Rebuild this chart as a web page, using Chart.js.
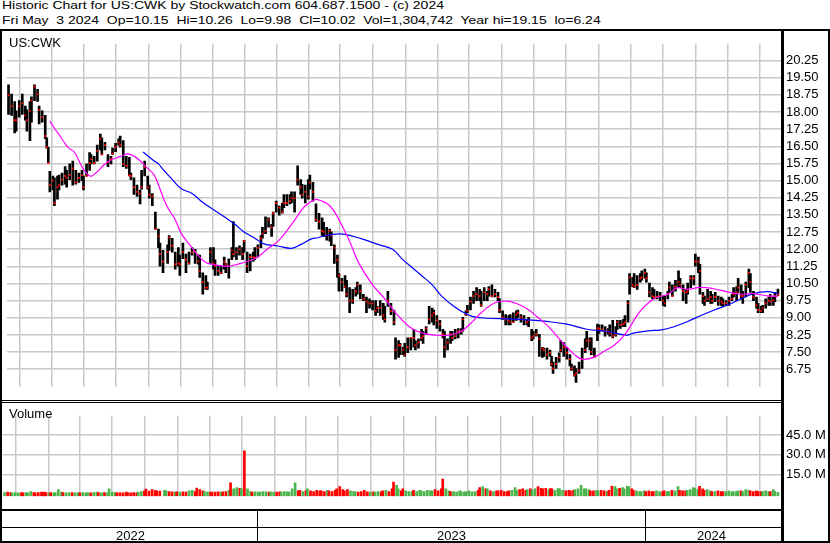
<!DOCTYPE html>
<html>
<head>
<meta charset="utf-8">
<script src="https://cdn.jsdelivr.net/npm/chart.js@4.4.1/dist/chart.umd.min.js"></script>
<style>
  html, body { margin: 0; padding: 0; background: #fff; }
  body { width: 830px; height: 543px; position: relative; overflow: hidden;
         font-family: "Liberation Sans", Arial, sans-serif; color: #000; }
  .ln { position: absolute; background: #000; }
  .txt { position: absolute; font-size: 13px; line-height: 13px; white-space: pre; }
  .head { transform: scale(1.075, 0.8); transform-origin: 0 0; }
  #priceBox { position: absolute; left: 3px; top: 31px; }
  #volBox { position: absolute; left: 3px; top: 403px; }
</style>
</head>
<body>
<div class="txt head" style="left:2px; top:0px;">Historic Chart for US:CWK by Stockwatch.com 604.687.1500 - (c) 2024</div>
<div class="txt head" style="left:2px; top:15px;">Fri May  3 2024  Op=10.15  Hi=10.26  Lo=9.98  Cl=10.02  Vol=1,304,742  Year hi=19.15  lo=6.24</div>

<div id="priceBox"><canvas id="price" width="827" height="369"></canvas></div>
<div id="volBox"><canvas id="vol" width="827" height="106"></canvas></div>

<div class="txt" style="left:9px; top:36px;">US:CWK</div>
<div class="txt" style="left:9px; top:407px;">Volume</div>

<!-- frame -->
<div class="ln" style="left:0; top:29px; width:830px; height:2px;"></div>
<div class="ln" style="left:0; top:29px; width:2px; height:514px;"></div>
<div class="ln" style="left:828px; top:29px; width:2px; height:514px;"></div>
<div class="ln" style="left:781px; top:29px; width:3px; height:514px;"></div>
<div class="ln" style="left:0; top:400px; width:781px; height:1px;"></div>
<div class="ln" style="left:0; top:402px; width:781px; height:1px;"></div>
<div class="ln" style="left:0; top:509px; width:781px; height:2px;"></div>
<div class="ln" style="left:0; top:527px; width:781px; height:1px;"></div>
<div class="ln" style="left:0; top:541px; width:830px; height:2px;"></div>
<div class="ln" style="left:257px; top:511px; width:1px; height:30px;"></div>
<div class="ln" style="left:645px; top:511px; width:1px; height:30px;"></div>

<div class="txt" style="left:116px; top:529px;">2022</div>
<div class="txt" style="left:437px; top:529px;">2023</div>
<div class="txt" style="left:697px; top:529px;">2024</div>

<script>
// trading-day index (0 = early May 2022) of each sampled bar
const days = [1,3,5,6,8,10,12,13,15,16, 18,20,21,23,25,26,27,28,30,31,
  33,34,36,38,39,41,43,45,47,49, 50,52,54,55,57,59,61,62,64,66,
  68,69,71,73,74,76,78,80,81,83, 85,87,88,90,92,93,95,97,99,100,
  102,105,106,108,110,112,113,115,117,119, 121,123,125,126,128,130,131,133,135,136,
  138,140,142,143,145,147,148,150,152,154, 155,157,159,161,162,164,166,167,169,171,
  173,174,176,178,180,181,183,185,186,188, 190,192,193,195,197,198,200,202,204,206,
  207,209,211,212,214,216,217,219,221,222, 224,226,228,229,231,233,235,237,239,241,
  242,244,246,247,249,251,253,254,256,257, 259,260,262,264,266,267,269,271,272,274,
  276,278,279,281,283,285,286,288,290,291, 293,295,297,298,300,301,303,305,307,309,
  310,312,314,315,317,319,321,322,324,326, 328,329,331,333,334,336,338,340,341,343,
  344,346,348,350,351,353,355,356,357,359, 361,362,364,366,368,369,371,372,374,376,
  378,379,381,382,384,386,387,389,391,393, 394,396,398,399,401,403,404,406,407,409,
  410,412,414,415,417,418,420,422,423,425, 427,429,430,432,433,435,437,439,440,442,
  444,445,447,449,450,452,453,455,456,458, 460,461,463,465,467,468,470,472,474,475,
  477,478,480,481,483,485,486,488,490,491, 493,494,496,498,499,501,502,504];

const highs = [19.19,18.78,18.46,18.05,18.50,18.78,18.26,18.09,18.46,18.66,
  19.19,18.99,18.26,18.05,17.85,16.87,16.46,15.41,15.20,15.12,
  15.20,15.24,15.33,15.61,15.45,15.73,15.85,15.45,15.33,15.45,
  15.20,15.73,16.22,16.14,16.06,16.55,17.03,16.87,16.67,16.14,
  16.06,16.42,16.63,16.83,16.95,16.75,16.06,16.02,15.33,15.12,
  14.80,14.59,15.45,15.85,15.20,14.80,14.43,13.62,12.88,12.27,
  11.95,12.19,12.60,12.48,11.87,12.07,11.74,12.27,11.79,11.87,
  12.07,11.99,11.74,11.74,10.97,10.85,10.56,12.07,12.07,11.54,
  11.26,11.26,11.66,11.38,11.58,12.07,13.21,12.07,12.15,12.07,
  12.39,11.87,11.79,11.87,12.07,12.19,12.60,12.96,13.41,13.37,
  13.09,13.62,14.10,13.90,14.02,14.39,14.39,14.39,14.51,14.51,
  15.65,15.04,14.84,14.80,15.04,15.24,14.92,13.98,13.57,13.37,
  13.17,12.96,12.88,12.76,12.19,11.74,10.93,10.73,10.85,10.64,
  10.32,10.24,10.32,10.56,10.44,10.03,9.91,9.83,9.75,9.75,
  9.50,9.75,9.63,9.50,10.16,9.63,9.34,8.12,8.00,7.88,
  7.71,7.88,8.12,8.12,8.49,8.00,8.08,8.49,8.41,8.61,
  9.50,9.42,9.34,9.10,8.89,8.49,8.41,8.08,8.41,8.41,
  8.49,8.53,8.53,9.02,9.30,9.54,9.91,10.16,10.32,10.24,
  10.16,10.32,10.16,10.36,10.44,10.24,10.11,9.83,9.30,9.14,
  9.10,9.14,9.22,9.30,9.34,9.14,9.10,8.93,9.02,8.49,
  8.41,8.49,8.28,7.71,7.67,7.67,7.59,7.31,7.06,7.27,
  7.47,8.00,7.92,7.71,7.39,6.98,6.90,6.78,7.06,7.67,
  8.08,8.41,8.12,8.12,7.67,8.73,8.69,8.69,8.61,8.53,
  8.69,8.89,8.61,8.89,8.89,8.93,9.10,9.75,10.93,10.77,
  10.93,10.85,10.93,11.05,11.13,10.97,10.52,10.32,10.24,10.16,
  10.11,9.95,9.95,10.16,10.56,10.44,10.64,11.05,10.73,10.44,
  10.24,10.52,10.85,10.85,11.79,11.66,11.34,10.11,9.95,10.24,
  10.16,10.03,10.11,9.95,9.91,9.83,9.75,9.91,10.03,10.32,
  10.36,10.73,10.44,10.16,10.56,11.13,10.93,10.16,9.91,9.63,
  9.50,9.54,9.83,9.91,10.03,9.91,10.11,10.26];

const lows = [17.89,17.85,17.08,17.16,17.77,17.89,17.64,17.16,16.75,17.56,
  18.50,18.46,17.48,17.56,16.83,16.42,15.77,14.51,14.59,13.90,
  14.19,14.59,14.80,14.84,14.71,15.04,14.80,14.84,14.92,15.00,
  14.59,15.20,15.45,15.73,15.73,15.85,16.34,16.14,16.34,15.61,
  15.73,16.14,16.26,16.55,16.46,15.61,15.53,15.20,15.04,14.39,
  14.31,13.98,14.63,15.20,14.63,14.23,13.90,12.88,12.07,11.26,
  10.97,11.38,11.95,11.87,11.13,11.26,10.85,11.58,10.97,11.34,
  11.74,11.38,11.34,10.77,10.03,10.24,10.24,11.38,11.13,10.85,
  10.85,10.93,11.13,10.97,10.73,11.54,11.66,11.54,11.74,11.54,
  11.87,10.97,11.05,11.46,11.54,11.66,12.07,12.48,12.68,12.96,
  12.56,13.00,13.62,13.49,13.57,13.82,13.90,13.98,14.02,13.62,
  14.80,14.39,14.23,14.02,14.19,14.63,14.10,13.21,12.88,12.60,
  12.56,12.39,12.35,12.15,11.38,10.77,10.16,10.16,10.32,9.91,
  9.22,9.63,9.95,10.03,9.83,9.75,9.22,9.42,9.34,9.10,
  9.22,9.10,8.93,8.81,9.50,9.14,8.69,7.19,7.27,7.39,
  7.39,7.31,7.47,7.59,7.71,7.59,7.67,8.00,7.88,8.28,
  8.73,8.81,8.69,8.53,8.41,8.12,7.27,7.59,7.88,8.00,
  8.08,8.12,8.28,8.41,9.10,9.22,9.34,9.63,9.75,9.75,
  9.50,9.75,9.75,9.95,9.91,9.91,9.75,9.22,8.93,8.69,
  8.69,8.69,8.81,8.89,9.02,8.81,8.69,8.69,8.61,8.00,
  8.08,8.20,7.31,7.27,7.31,7.19,7.31,6.90,6.57,6.78,
  7.06,7.51,7.31,7.19,6.90,6.70,6.45,6.17,6.57,6.78,
  7.47,7.71,7.59,7.39,7.27,8.00,8.32,8.41,8.20,8.28,
  8.20,8.12,8.20,8.49,8.53,8.61,8.61,8.81,10.03,10.36,
  10.32,10.24,10.56,10.64,10.73,10.56,9.91,9.83,9.83,9.83,
  9.75,9.54,9.50,9.83,10.11,9.95,10.16,10.36,10.32,9.75,
  9.63,10.03,10.32,10.44,11.26,10.97,10.03,9.63,9.54,9.71,
  9.63,9.63,9.71,9.54,9.54,9.50,9.54,9.54,9.75,9.91,
  9.75,10.11,9.83,9.63,9.91,10.32,10.11,9.75,9.42,9.22,
  9.22,9.22,9.42,9.54,9.54,9.54,9.71,9.98];

const closes = [18.74,18.26,17.64,17.64,18.26,18.38,17.85,17.64,18.05,18.50,
  19.11,18.78,18.09,17.77,16.95,16.46,15.77,14.80,15.00,14.02,
  14.71,14.80,15.04,15.20,15.12,15.24,15.53,14.92,15.12,15.24,
  14.71,15.20,15.77,15.94,15.77,16.30,16.83,16.14,16.55,15.81,
  15.94,16.18,16.46,16.67,16.55,15.73,15.65,15.24,15.20,14.71,
  14.51,14.43,14.71,15.61,14.71,14.39,14.31,12.88,12.56,11.79,
  11.46,11.87,12.52,12.15,11.34,11.38,11.34,11.87,11.54,11.38,
  11.87,11.87,11.46,11.05,10.56,10.32,10.32,11.87,11.38,11.26,
  11.05,10.97,11.46,11.34,11.26,11.95,11.79,11.87,11.99,11.79,
  12.35,11.26,11.66,11.66,11.62,12.07,12.48,12.68,12.80,13.29,
  12.96,13.57,14.02,13.82,13.62,14.02,14.02,14.10,14.23,14.23,
  15.04,14.71,14.39,14.51,14.31,14.92,14.51,13.29,13.21,12.80,
  12.76,12.60,12.80,12.60,12.07,11.54,10.85,10.56,10.36,10.03,
  9.75,9.75,10.16,10.44,10.16,9.83,9.71,9.63,9.63,9.30,
  9.42,9.42,9.10,8.93,9.75,9.30,8.81,7.59,7.80,7.80,
  7.59,7.39,7.71,8.12,8.12,7.80,7.92,8.12,8.20,8.53,
  8.93,9.10,9.22,8.89,8.73,8.28,7.71,7.92,8.28,8.12,
  8.20,8.41,8.41,8.93,9.14,9.30,9.71,9.95,10.03,9.95,
  9.54,10.11,10.03,10.24,9.95,10.03,9.91,9.34,9.02,8.93,
  8.89,8.81,8.81,9.14,9.22,9.02,8.93,8.81,8.89,8.12,
  8.20,8.28,8.08,7.67,7.59,7.39,7.47,6.98,6.78,6.98,
  7.27,7.59,7.71,7.47,7.19,6.78,6.49,6.57,6.70,7.19,
  7.59,8.00,8.00,7.51,7.31,8.53,8.53,8.49,8.41,8.41,
  8.32,8.20,8.28,8.81,8.69,8.73,8.81,9.63,10.77,10.44,
  10.36,10.44,10.73,10.77,10.97,10.73,10.11,9.95,9.91,9.91,
  9.95,9.75,9.63,10.03,10.32,9.95,10.36,10.56,10.44,10.16,
  10.11,10.16,10.73,10.73,11.46,11.46,11.05,9.95,9.75,9.83,
  9.91,9.75,9.91,9.75,9.71,9.63,9.63,9.75,9.83,10.03,
  10.11,10.32,9.95,9.95,10.44,10.97,10.56,9.91,9.54,9.34,
  9.30,9.42,9.63,9.75,9.71,9.75,9.95,10.02];

// volume in millions of shares
const volumes = [1.2,1.5,1.2,1.0,1.2,1.0,1.2,1.0,1.2,1.0,
  2.0,1.2,1.0,1.2,1.5,1.2,1.5,1.2,1.0,1.2,
  1.0,1.2,3.5,1.5,1.2,1.0,1.2,1.2,1.0,1.2,
  1.0,1.2,1.0,1.2,1.0,1.2,1.5,1.2,1.0,1.2,
  1.2,4.0,1.5,1.2,1.0,1.2,1.0,1.5,1.2,1.0,
  1.2,1.0,1.5,2.0,2.5,3.9,2.3,3.5,2.8,2.5,
  2.3,3.0,2.5,2.0,1.7,1.5,1.7,1.5,1.7,1.5,
  2.5,3.0,2.0,4.6,3.5,2.5,2.0,1.7,1.5,1.5,
  1.5,1.7,1.5,1.7,2.0,3.0,8.7,4.0,5.0,4.5,
  4.0,33.0,4.0,2.0,1.5,1.7,1.5,1.5,2.0,1.7,
  1.5,1.7,1.5,1.5,1.7,1.5,2.0,1.7,1.5,4.0,
  8.7,2.5,3.0,2.0,2.5,4.0,2.5,2.0,3.0,2.5,
  2.5,2.0,3.0,2.5,2.0,3.0,4.0,5.8,3.5,2.5,
  3.5,2.5,2.0,1.7,1.5,2.0,3.0,1.7,1.5,1.7,
  1.5,2.0,1.7,2.5,3.0,2.0,4.0,9.2,6.7,4.0,
  2.5,4.0,2.5,2.0,2.0,3.0,2.0,3.0,2.5,2.0,
  3.0,2.5,2.5,3.5,2.5,4.0,11.5,4.0,2.5,2.0,
  2.0,1.5,2.5,2.0,1.5,2.0,2.5,1.7,2.0,3.0,
  5.0,5.8,4.0,4.0,2.5,2.0,2.5,2.5,3.0,2.0,
  2.0,2.5,3.0,5.0,3.0,3.5,4.0,3.0,3.5,4.0,
  3.0,4.0,5.8,4.5,4.0,4.5,3.5,4.3,4.0,3.0,
  4.3,4.0,3.0,2.5,3.0,2.5,3.0,3.5,4.0,6.7,
  4.0,4.0,3.5,2.5,2.5,3.0,2.5,3.0,2.5,2.0,
  3.0,6.0,5.8,4.0,4.5,5.0,4.0,6.0,5.5,4.0,
  3.0,2.5,2.0,2.0,2.5,2.0,2.5,2.0,2.0,2.5,
  2.0,2.0,2.5,2.0,2.0,3.0,2.5,5.8,3.0,2.5,
  2.5,3.0,3.5,5.0,4.5,3.5,6.0,4.0,3.0,3.5,
  2.5,2.0,2.0,2.5,2.0,2.0,2.0,2.5,2.0,2.0,
  2.0,2.5,2.5,2.0,3.5,3.0,2.5,2.0,2.5,2.0,
  2.0,2.0,2.5,2.0,2.0,3.5,2.0,1.3];

// short moving average (magenta)
const maShortDays = [28,31,34,37,40,44,47,50,53,55, 59,63,67,72,76,79,83,87,91,96,
  99,102,105,110,114,120,125,130,136,144, 151,157,164,170,177,183,189,194,199,203,
  211,217,224,230,239,247,254,263,271,280, 289,297,304,310,319,327,334,341,347,354,
  362,371,376,384,391,397,404,408,414,423, 432,438,445,453,462,471,480,488,497,504];
const maShortVals = [17.60,17.29,17.02,16.71,16.44,16.25,15.87,15.49,15.26,15.19,
  15.39,15.66,15.87,16.00,16.11,16.17,16.07,15.87,15.60,15.26,
  14.82,14.27,13.83,13.29,12.68,12.14,11.73,11.42,11.32,11.25,
  11.35,11.46,11.66,12.00,12.34,12.81,13.36,13.83,14.10,14.17,
  13.90,13.29,12.34,11.39,10.44,9.83,9.22,8.61,8.34,8.24,
  8.24,8.41,8.81,9.22,9.66,9.73,9.60,9.35,9.02,8.61,
  8.00,7.39,7.19,7.28,7.56,7.80,8.27,8.68,9.29,9.83,
  10.03,10.31,10.24,10.33,10.27,10.13,10.03,10.06,9.96,9.94];

// long moving average (blue)
const maLongDays = [89,96,99,102,108,114,121,127,134,142, 149,155,162,168,177,186,192,199,203,213,
  221,232,243,252,258,265,271,278,284,291, 297,304,314,327,340,353,366,379,392,405,
  410,419,428,436,445,454,462,471,480,488, 497,504];
const maLongVals = [16.25,15.87,15.73,15.49,15.05,14.64,14.44,14.10,13.77,13.42,
  13.09,12.75,12.48,12.23,12.14,12.04,12.20,12.45,12.50,12.65,
  12.65,12.45,12.20,12.00,11.59,11.19,10.85,10.44,9.96,9.56,
  9.29,9.06,8.98,8.95,8.91,8.84,8.72,8.50,8.41,8.24,
  8.34,8.43,8.47,8.61,8.84,9.11,9.33,9.56,9.83,10.06,
  10.14,10.06];

// first trading day of each month, Jun 2022 .. May 2024
const monthStarts = [19,40,60,82,103,124,145,166,187,207,228,250,271,292,312,335,354,376,398,418,440,461,481,503];
const priceTicks = [6.75,7.50,8.25,9.00,9.75,10.50,11.25,12.00,12.75,13.50,14.25,15.00,15.75,16.50,17.25,18.00,18.75,19.50,20.25];
const volumeTicks = [15, 30, 45];

const GRID = '#c8c8c8';
const UP = '#4cb44c';
const DOWN = '#ff0000';
const FONT = { family: '"Liberation Sans", Arial, sans-serif', size: 13 };
const X_MAX = 506;

function xScale() {
  return {
    type: 'linear', min: 0, max: X_MAX, offset: false,
    ticks: { display: false },
    grid: { color: GRID, lineWidth: 1.5, drawTicks: false },
    border: { display: false },
    afterBuildTicks: s => { s.ticks = monthStarts.map(v => ({ value: v })); },
    afterFit: s => { s.height = 0; }
  };
}

const common = {
  responsive: false,
  animation: false,
  devicePixelRatio: 1,
  events: [],
  layout: { padding: 0 },
  plugins: { legend: { display: false }, tooltip: { enabled: false } }
};

new Chart(document.getElementById('price'), {
  type: 'bar',
  data: {
    datasets: [
      { type: 'line', label: 'MA short', data: maShortDays.map((d, i) => ({ x: d, y: maShortVals[i] })),
        borderColor: '#ff00ff', borderWidth: 1.2, pointRadius: 0, tension: 0.4, order: 0 },
      { type: 'line', label: 'MA long', data: maLongDays.map((d, i) => ({ x: d, y: maLongVals[i] })),
        borderColor: '#0000ff', borderWidth: 1.2, pointRadius: 0, tension: 0.4, order: 0 },
      { type: 'line', label: 'Close', data: days.map((d, i) => ({ x: d, y: closes[i] })),
        showLine: false, pointStyle: 'rect', pointRadius: 1.3, pointBackgroundColor: '#ff0000',
        pointBorderWidth: 0, order: 1 },
      { type: 'bar', label: 'Range', data: days.map((d, i) => ({ x: d, y: [lows[i], highs[i]] })),
        backgroundColor: '#000000', barThickness: 2, borderWidth: 0, order: 2 }
    ]
  },
  options: Object.assign({}, common, {
    scales: {
      x: xScale(),
      y: {
        type: 'linear', position: 'right', min: 5.964, max: 20.983,
        afterBuildTicks: s => { s.ticks = priceTicks.map(v => ({ value: v })); },
        afterFit: s => { s.width = 827 - 778; },
        ticks: { color: '#000', font: FONT, padding: 5, callback: v => Number(v).toFixed(2) },
        grid: { color: GRID, lineWidth: 1.5, drawTicks: false },
        border: { display: false }
      }
    }
  })
});

const volColors = closes.map((c, i) => (i === 0 || c >= closes[i - 1]) ? UP : DOWN);

new Chart(document.getElementById('vol'), {
  type: 'bar',
  data: {
    datasets: [{
      label: 'Volume', data: days.map((d, i) => ({ x: d, y: volumes[i] })),
      backgroundColor: volColors, barThickness: 2, borderWidth: 0, base: -1.56
    }]
  },
  options: Object.assign({}, common, {
    scales: {
      x: xScale(),
      y: {
        type: 'linear', position: 'right', min: -1.56, max: 59.6,
        afterBuildTicks: s => { s.ticks = volumeTicks.map(v => ({ value: v })); },
        afterFit: s => { s.width = 827 - 778; },
        ticks: { color: '#000', font: FONT, padding: 5, callback: v => Number(v).toFixed(1) + ' M' },
        grid: { color: GRID, lineWidth: 1.5, drawTicks: false },
        border: { display: false }
      }
    }
  })
});
</script>
</body>
</html>
